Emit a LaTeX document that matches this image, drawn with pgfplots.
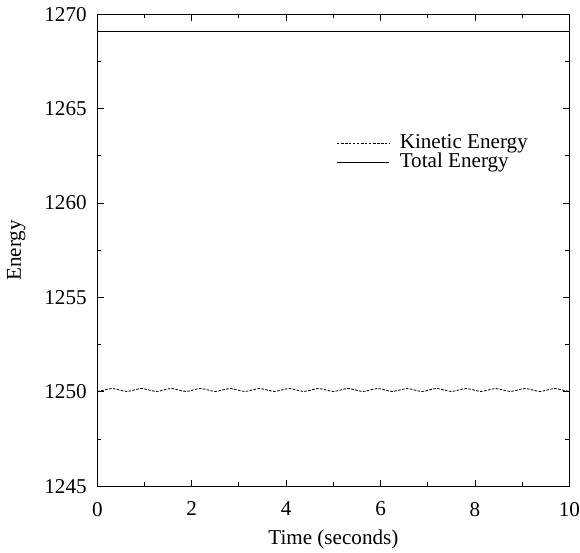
\documentclass[border=0pt]{standalone}
\usepackage{pgfplots}
\pgfplotsset{compat=1.18}
\usepackage{fontspec}
\setmainfont{Liberation Serif}
\begin{document}
\fontsize{12.7}{15}\selectfont
\begin{tikzpicture}
\begin{axis}[
  scale only axis,
  width=284pt, height=284pt,
  xmin=0, xmax=10, ymin=1245, ymax=1270,
  xtick={0,2,...,10}, ytick={1245,1250,...,1270},
  minor xtick={1,3,5,7,9},
  minor ytick={1247.5,1252.5,1257.5,1262.5,1267.5},
  tick align=inside,
  major tick length=4pt, minor tick length=2.5pt,
  every tick/.style={black, line width=0.6pt},
  axis line style={line width=0.6pt},
  /pgf/number format/assume math mode=true,
  /pgf/number format/1000 sep={},
  ticklabel style={font=\fontsize{12.7}{15}\selectfont, inner xsep=0pt},
  xticklabel style={yshift=-5pt},
  yticklabel style={xshift=-6.2pt},
  label style={font=\fontsize{12.7}{15}\selectfont},
  xlabel={Time (seconds)},
  xlabel style={yshift=-2pt, inner ysep=2pt},
  ylabel={Energy},
  ylabel style={yshift=7pt},
  legend style={draw=none, fill=none, at={(0.495,0.76)}, anchor=north west,
    font=\fontsize{12.7}{15}\selectfont, row sep=-3pt},
  legend cell align=left,
  legend image post style={xscale=1.85},
]
\addplot[black, line width=0.5pt, dash pattern=on 1.6pt off 0.8pt, smooth] table {
x y
0 1250.02
0.15625 1250.10
0.3125 1250.18
0.46875 1250.10
0.625 1250.02
0.78125 1250.10
0.9375 1250.18
1.09375 1250.10
1.25 1250.02
1.40625 1250.10
1.5625 1250.18
1.71875 1250.10
1.875 1250.02
2.03125 1250.10
2.1875 1250.18
2.34375 1250.10
2.5 1250.02
2.65625 1250.10
2.8125 1250.18
2.96875 1250.10
3.125 1250.02
3.28125 1250.10
3.4375 1250.18
3.59375 1250.10
3.75 1250.02
3.90625 1250.10
4.0625 1250.18
4.21875 1250.10
4.375 1250.02
4.53125 1250.10
4.6875 1250.18
4.84375 1250.10
5 1250.02
5.15625 1250.10
5.3125 1250.18
5.46875 1250.10
5.625 1250.02
5.78125 1250.10
5.9375 1250.18
6.09375 1250.10
6.25 1250.02
6.40625 1250.10
6.5625 1250.18
6.71875 1250.10
6.875 1250.02
7.03125 1250.10
7.1875 1250.18
7.34375 1250.10
7.5 1250.02
7.65625 1250.10
7.8125 1250.18
7.96875 1250.10
8.125 1250.02
8.28125 1250.10
8.4375 1250.18
8.59375 1250.10
8.75 1250.02
8.90625 1250.10
9.0625 1250.18
9.21875 1250.10
9.375 1250.02
9.53125 1250.10
9.6875 1250.18
9.84375 1250.10
10 1250.02
};
\addlegendentry{\hspace*{4pt}Kinetic Energy}
\addplot[black, line width=0.6pt] table {
x y
0 1269.1
10 1269.1
};
\addlegendentry{\hspace*{4pt}Total Energy}
\end{axis}
\end{tikzpicture}
\end{document}
